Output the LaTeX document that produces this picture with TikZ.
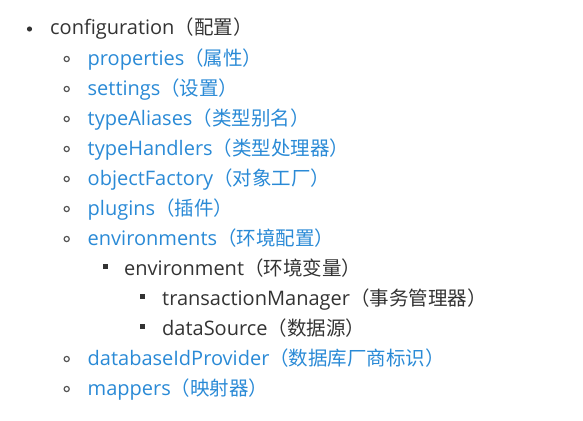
\documentclass[tikz,border=0pt]{standalone}
\usepackage{fontspec}
\setmainfont{Open Sans}
\newfontfamily\cjk{Noto Sans CJK SC}
\definecolor{txt}{HTML}{333333}
\definecolor{lnk}{HTML}{2A8AD6}
\definecolor{bul}{HTML}{555555}
\newcommand{\zh}[1]{{\cjk\fontsize{19.5}{21}\selectfont #1}}
\begin{document}
\begin{tikzpicture}[x=1pt,y=-1pt,
  item/.style={anchor=base west,inner sep=0pt,font=\fontsize{20}{22}\selectfont},
  dark/.style={item,text=txt},
  blue/.style={item,text=lnk},
  disc/.style={fill=txt,draw=none},
  ring/.style={draw=bul,line width=1.2pt,fill=none},
  sq/.style={fill=txt,draw=none}]
\useasboundingbox (0,0) rectangle (583,420);
% level 0
\fill[disc] (29.5,29) circle (2.6);
\node[dark] (n0) at (50,35) {configuration\zh{（配置）}};
% level 1
\foreach \y/\t/\n in {
  65/properties\zh{（属性）}/n1,
  95/settings\zh{（设置）}/n2,
  125/typeAliases\zh{（类型别名）}/n3,
  155/typeHandlers\zh{（类型处理器）}/n4,
  185/objectFactory\zh{（对象工厂）}/n5,
  215/plugins\zh{（插件）}/n6,
  245/environments\zh{（环境配置）}/n7,
  365/databaseIdProvider\zh{（数据库厂商标识）}/n8,
  395/mappers\zh{（映射器）}/n9}{
  \draw[ring] (66.7,\y-6) circle (2.6);
  \node[blue] (\n) at (87.5,\y) {\t};
}
% level 2
\fill[sq] (102.5,269) rectangle ++(5,-5);
\node[dark] (e1) at (124,275) {environment\zh{（环境变量）}};
% level 3
\fill[sq] (139.5,299) rectangle ++(5,-5);
\node[dark] (t1) at (162,305) {transactionManager\zh{（事务管理器）}};
\fill[sq] (139.5,329) rectangle ++(5,-5);
\node[dark] (d1) at (162,335) {dataSource\zh{（数据源）}};
\end{tikzpicture}
\end{document}
